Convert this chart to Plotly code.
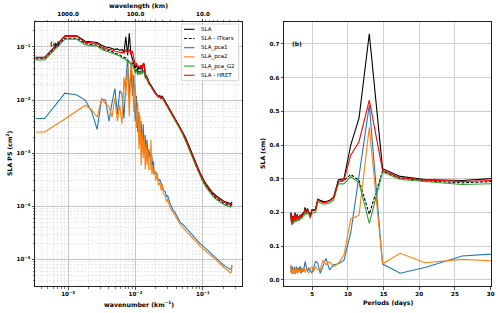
import plotly.graph_objects as go

# ---------------- panel (a): spectra ----------------
wavenumber = [3.3e-4, 4.5e-4, 9.0e-4, 1.35e-3, 1.8e-3, 2.25e-3, 2.7e-3, 3.15e-3, 3.6e-3, 4.05e-3,
              4.5e-3, 4.95e-3, 5.4e-3, 5.85e-3, 6.3e-3, 6.75e-3, 7.2e-3, 7.65e-3, 8.1e-3, 8.55e-3,
              9.0e-3, 9.45e-3, 9.9e-3, 1.035e-2, 1.08e-2, 1.125e-2, 1.17e-2, 1.215e-2, 1.26e-2, 1.305e-2,
              1.35e-2, 1.395e-2, 1.44e-2, 1.485e-2, 1.53e-2, 1.575e-2,
              0.0165, 0.017, 0.0175, 0.018, 0.0185, 0.019, 0.02, 0.021, 0.022, 0.023, 0.024, 0.025,
              0.026, 0.0275, 0.029, 0.03, 0.032, 0.034, 0.036, 0.038, 0.04, 0.043, 0.046, 0.05,
              0.055, 0.06, 0.066, 0.072, 0.08, 0.09, 0.1, 0.11, 0.125, 0.14, 0.16, 0.18, 0.2,
              0.22, 0.24, 0.255, 0.265, 0.27]

ps_sla = [0.064, 0.064, 0.162, 0.162, 0.128, 0.122, 0.121, 0.108, 0.100, 0.098, 0.095, 0.090,
          0.092, 0.086, 0.090, 0.080, 0.155, 0.070, 0.180, 0.075, 0.060, 0.050, 0.040, 0.048,
          0.036, 0.042, 0.038, 0.045, 0.037, 0.046, 0.048, 0.031, 0.029, 0.027, 0.025, 0.022,
          0.020, 0.019, 0.017, 0.0165, 0.0155, 0.0148, 0.0135, 0.0125, 0.0118, 0.0122, 0.0112,
          0.0118, 0.0108, 0.0098, 0.0087, 0.0082, 0.0068, 0.0060, 0.0053, 0.0048, 0.0043, 0.0037,
          0.0031, 0.0026, 0.0020, 0.00155, 0.00118, 0.00088, 0.00063, 0.00044, 0.00034, 0.00027,
          0.000215, 0.00018, 0.000155, 0.000138, 0.000128, 0.00012, 0.000115, 0.000113, 0.000116,
          0.000122]

ps_itkars = [0.060, 0.060, 0.146, 0.146, 0.115, 0.110, 0.109, 0.094, 0.089, 0.084, 0.082, 0.076,
             0.074, 0.071, 0.066, 0.064, 0.062, 0.056, 0.054, 0.052, 0.049, 0.043, 0.035, 0.039,
             0.032, 0.035, 0.032, 0.036, 0.033, 0.037, 0.035, 0.028, 0.026, 0.025, 0.023, 0.021,
             0.0192, 0.018, 0.0166, 0.0158, 0.015, 0.0142, 0.0131, 0.0121, 0.0114, 0.0116, 0.0107,
             0.0112, 0.0103, 0.0094, 0.0084, 0.0078, 0.0065, 0.0057, 0.005, 0.0045, 0.004, 0.0035,
             0.0029, 0.0024, 0.00183, 0.00142, 0.00108, 0.0008, 0.00057, 0.0004, 0.0003, 0.000245,
             0.000195, 0.000163, 0.00014, 0.000125, 0.000116, 0.000109, 0.000105, 0.000103,
             0.000106, 0.000112]

ps_pca1 = [0.0045, 0.0045, 0.0135, 0.0125, 0.0100, 0.0060, 0.0028, 0.0105, 0.0100, 0.0040, 0.0090,
           0.0165, 0.0055, 0.0150, 0.0130, 0.0045, 0.0220, 0.0600, 0.0110, 0.0450, 0.0120, 0.0300,
           0.0040, 0.0120, 0.0025, 0.0060, 0.0015, 0.0040, 0.0012, 0.0035, 0.0010, 0.0022, 0.0009,
           0.0018, 0.0008, 0.0012,
           0.0008, 0.0006, 0.0009, 0.0005, 0.0007, 0.0004, 0.00045, 0.00035, 0.0003, 0.00032,
           0.00026, 0.00024, 0.0002, 0.00019, 0.00015, 0.00016, 0.00012, 0.0001, 0.000085, 0.00008,
           0.00007, 0.00006, 0.00005, 0.000046, 0.00004, 0.000035, 0.000031, 0.000028, 0.000024,
           0.00002, 0.000018, 0.000016, 0.000014, 0.0000122, 0.0000105, 0.000009, 0.000008,
           0.0000072, 0.0000068, 0.0000065, 0.0000068, 0.0000078]

ps_pca2 = [0.0025, 0.0025, 0.0044, 0.0062, 0.0080, 0.0065, 0.0048, 0.0105, 0.0085, 0.0075, 0.0048,
           0.0110, 0.0040, 0.0080, 0.0035, 0.0270, 0.0120, 0.0420, 0.0050, 0.0550, 0.0300, 0.0060,
           0.0200, 0.0030, 0.0090, 0.0012, 0.0050, 0.0006, 0.0025, 0.0008, 0.0020, 0.0005, 0.0015,
           0.0006, 0.0012, 0.0005,
           0.0005, 0.0018, 0.0004, 0.0006, 0.0004, 0.0005, 0.0003, 0.00042, 0.00025, 0.00028,
           0.0002, 0.00026, 0.00017, 0.00016, 0.00012, 0.00014, 0.0001, 0.000085, 0.000078, 0.00007,
           0.000062, 0.000052, 0.000046, 0.00004, 0.000035, 0.000031, 0.000028, 0.000025, 0.000021,
           0.000018, 0.000016, 0.0000145, 0.0000125, 0.000011, 0.0000095, 0.0000082, 0.0000072,
           0.0000065, 0.000006, 0.0000056, 0.0000058, 0.0000075]

ps_pca_g2 = [0.057, 0.057, 0.140, 0.140, 0.110, 0.105, 0.105, 0.090, 0.085, 0.080, 0.078, 0.072,
             0.070, 0.068, 0.062, 0.060, 0.058, 0.052, 0.050, 0.048, 0.046, 0.040, 0.032, 0.036,
             0.030, 0.033, 0.030, 0.034, 0.031, 0.035, 0.033, 0.026, 0.025, 0.024, 0.022, 0.020,
             0.019, 0.0178, 0.0164, 0.0156, 0.0148, 0.014, 0.0129, 0.0119, 0.0112, 0.0114, 0.0105,
             0.011, 0.0101, 0.0092, 0.0082, 0.0076, 0.0063, 0.0055, 0.0048, 0.0043, 0.0038, 0.0033,
             0.0028, 0.0023, 0.00175, 0.00136, 0.00103, 0.00077, 0.00055, 0.00038, 0.00029, 0.000235,
             0.000185, 0.000155, 0.000133, 0.000119, 0.00011, 0.000104, 0.0001, 0.000098, 0.0001,
             0.000106]

ps_hret = [0.063, 0.063, 0.158, 0.158, 0.122, 0.118, 0.117, 0.100, 0.094, 0.090, 0.088, 0.083,
           0.082, 0.078, 0.080, 0.076, 0.088, 0.078, 0.090, 0.072, 0.085, 0.060, 0.045, 0.050,
           0.040, 0.045, 0.040, 0.046, 0.040, 0.050, 0.047, 0.031, 0.029, 0.027, 0.025, 0.022,
           0.0195, 0.0182, 0.0168, 0.016, 0.0152, 0.0143, 0.0132, 0.0122, 0.0115, 0.0118, 0.0108,
           0.0114, 0.0104, 0.0095, 0.0085, 0.0079, 0.0066, 0.0058, 0.0051, 0.0046, 0.0041, 0.0036,
           0.0030, 0.0025, 0.0019, 0.00148, 0.00113, 0.00084, 0.0006, 0.00042, 0.00032, 0.00026,
           0.000205, 0.000172, 0.000148, 0.000132, 0.000122, 0.000115, 0.00011, 0.000108, 0.000111,
           0.000117]

# ---------------- panel (b): amplitude vs period ----------------
periods = [2.0, 2.04, 2.08, 2.12, 2.17, 2.21, 2.26, 2.31, 2.36, 2.42, 2.48, 2.54, 2.6, 2.67, 2.74,
           2.81, 2.89, 2.97, 3.06, 3.15, 3.25, 3.35, 3.47, 3.59, 3.71, 3.85, 4.0, 4.16, 4.33, 4.52,
           4.73, 4.95, 5.2, 5.47, 5.78, 6.12, 6.5, 6.93, 7.43, 8.0, 8.67, 9.45, 10.4, 11.56, 13.0,
           14.86, 17.33, 20.8, 26.0, 34.67]

amp_sla = [0.185, 0.2, 0.178, 0.19, 0.17, 0.185, 0.168, 0.175, 0.19, 0.172, 0.185, 0.178, 0.2, 0.18,
           0.186, 0.178, 0.195, 0.18, 0.188, 0.182, 0.19, 0.185, 0.195, 0.188, 0.2, 0.195, 0.215,
           0.198, 0.212, 0.2, 0.19, 0.208, 0.207, 0.21, 0.24, 0.236, 0.233, 0.232, 0.236, 0.245,
           0.297, 0.30, 0.40, 0.48, 0.73, 0.33, 0.307, 0.298, 0.295, 0.307]

amp_itkars = [0.183, 0.198, 0.176, 0.188, 0.168, 0.186, 0.168, 0.176, 0.188, 0.172, 0.183, 0.177,
              0.198, 0.179, 0.186, 0.177, 0.193, 0.18, 0.186, 0.181, 0.19, 0.184, 0.193, 0.187,
              0.198, 0.194, 0.212, 0.197, 0.21, 0.2, 0.19, 0.206, 0.206, 0.208, 0.238, 0.234,
              0.231, 0.231, 0.235, 0.244, 0.292, 0.295, 0.313, 0.295, 0.195, 0.323, 0.302, 0.294,
              0.288, 0.296]

amp_pca1 = [0.025, 0.042, 0.022, 0.03, 0.018, 0.04, 0.025, 0.035, 0.02, 0.03, 0.022, 0.04, 0.018,
            0.032, 0.025, 0.04, 0.02, 0.035, 0.022, 0.038, 0.028, 0.04, 0.02, 0.035, 0.025, 0.03,
            0.055, 0.04, 0.025, 0.035, 0.03, 0.02, 0.035, 0.055, 0.05, 0.02, 0.04, 0.064, 0.03,
            0.045, 0.048, 0.058, 0.14, 0.31, 0.518, 0.047, 0.02, 0.037, 0.071, 0.083]

amp_pca2 = [0.022, 0.045, 0.03, 0.02, 0.032, 0.025, 0.022, 0.03, 0.018, 0.035, 0.028, 0.02, 0.03,
            0.025, 0.035, 0.022, 0.03, 0.02, 0.035, 0.025, 0.03, 0.02, 0.035, 0.03, 0.025, 0.04,
            0.022, 0.033, 0.028, 0.02, 0.035, 0.038, 0.025, 0.04, 0.03, 0.03, 0.059, 0.045, 0.054,
            0.04, 0.049, 0.074, 0.18, 0.192, 0.453, 0.048, 0.079, 0.051, 0.061, 0.052]

amp_pca_g2 = [0.18, 0.19, 0.17, 0.18, 0.162, 0.182, 0.165, 0.172, 0.18, 0.168, 0.178, 0.172, 0.19,
              0.172, 0.182, 0.173, 0.186, 0.176, 0.18, 0.175, 0.185, 0.18, 0.186, 0.183, 0.19,
              0.19, 0.203, 0.193, 0.2, 0.195, 0.183, 0.198, 0.2, 0.2, 0.232, 0.228, 0.225, 0.225,
              0.228, 0.237, 0.285, 0.285, 0.306, 0.288, 0.168, 0.32, 0.298, 0.292, 0.283, 0.288]

amp_hret = [0.19, 0.195, 0.172, 0.185, 0.165, 0.19, 0.172, 0.18, 0.186, 0.175, 0.182, 0.18, 0.196,
            0.178, 0.19, 0.18, 0.192, 0.183, 0.185, 0.18, 0.192, 0.188, 0.192, 0.19, 0.198, 0.2,
            0.21, 0.2, 0.208, 0.202, 0.188, 0.205, 0.205, 0.208, 0.238, 0.233, 0.23, 0.23, 0.234,
            0.243, 0.292, 0.295, 0.37, 0.41, 0.533, 0.325, 0.303, 0.296, 0.292, 0.298]

series_names = ["SLA", "SLA - ITkars", "SLA_pca1", "SLA_pca2", "SLA_pca_G2", "SLA - HRET"]
series_colors = ["#000000", "#000000", "#1f77b4", "#ff7f0e", "#2ca02c", "#ff0000"]
series_dash = ["solid", "3px,1.6px", "solid", "solid", "solid", "solid"]

ps_series = [ps_sla, ps_itkars, ps_pca1, ps_pca2, ps_pca_g2, ps_hret]
amp_series = [amp_sla, amp_itkars, amp_pca1, amp_pca2, amp_pca_g2, amp_hret]

log_ticks = [1e-3, 1e-2, 1e-1]
log_tick_text = ["10<sup>−3</sup>", "10<sup>−2</sup>", "10<sup>−1</sup>"]
ps_ticks = [1e-5, 1e-4, 1e-3, 1e-2, 1e-1]
ps_tick_text = ["10<sup>−5</sup>", "10<sup>−4</sup>", "10<sup>−3</sup>", "10<sup>−2</sup>", "10<sup>−1</sup>"]
wl_ticks = [1000, 100, 10]
wl_tick_text = ["1000.0", "100.0", "10.0"]
period_ticks = [5, 10, 15, 20, 25, 30]
period_tick_text = ["5", "10", "15", "20", "25", "30"]
amp_ticks = [0.0, 0.1, 0.2, 0.3, 0.4, 0.5, 0.6, 0.7]

# minor (2..9 x decade) tick positions for the log axes
minor_k = [m * 10.0 ** e for e in range(-4, 0) for m in range(2, 10)]
minor_ps = [m * 10.0 ** e for e in range(-6, 0) for m in range(2, 10)]
minor_wl = [m * 10.0 ** e for e in range(0, 4) for m in range(2, 10)]

# full-window figure; the page's default body margin is removed by a post script
W, H = 500, 313
def px(x):
    return x / W
def py(y):
    return 1 - y / H

FONT = "DejaVu Sans"
fig = go.Figure()

for name, col, dash, ys in zip(series_names, series_colors, series_dash, ps_series):
    fig.add_trace(go.Scatter(x=wavenumber, y=ys, mode="lines", name=name,
                             line=dict(color=col, width=1.1, dash=dash),
                             xaxis="x", yaxis="y", showlegend=False))
for name, col, dash, ys in zip(series_names, series_colors, series_dash, amp_series):
    fig.add_trace(go.Scatter(x=periods, y=ys, mode="lines", name=name,
                             line=dict(color=col, width=1.1, dash=dash),
                             xaxis="x2", yaxis="y2", showlegend=False))

tickfont = dict(family=FONT, size=5.6, color="black", weight="bold")
titlefont = dict(family=FONT, size=6.2, color="black", weight="bold")
frame = dict(showline=True, linecolor="#222222", linewidth=1, mirror=True,
             ticks="outside", ticklen=2.5, tickwidth=0.8, tickcolor="#222222",
             zeroline=False, tickfont=tickfont, automargin=False)
minor_style = dict(ticks="outside", ticklen=1.5, tickwidth=0.6, tickcolor="#222222",
                   showgrid=True, gridcolor="#dcdcdc", griddash="2px,1.5px", gridwidth=0.6)

dom_y = [py(286), py(22)]
fig.update_layout(
    width=W, height=H, margin=dict(l=0, r=0, t=0, b=0, autoexpand=False),
    paper_bgcolor="white", plot_bgcolor="white", showlegend=False,
    xaxis=dict(type="log", range=[-3.49, -0.42], domain=[px(35), px(242)], anchor="y",
               tickmode="array", tickvals=log_ticks, ticktext=log_tick_text,
               showgrid=True, gridcolor="#b8b8b8", gridwidth=0.8,
               minor=dict(tickmode="array", tickvals=minor_k, **minor_style),
               **frame),
    yaxis=dict(type="log", range=[-5.5, -0.53], domain=dom_y, anchor="x",
               tickmode="array", tickvals=ps_ticks, ticktext=ps_tick_text,
               showgrid=True, gridcolor="#b8b8b8", gridwidth=0.8,
               minor=dict(tickmode="array", tickvals=minor_ps, **minor_style),
               **frame),
    xaxis3=dict(type="log", range=[3.49, 0.42], overlaying="x", side="top", anchor="y",
                tickmode="array", tickvals=wl_ticks, ticktext=wl_tick_text, showgrid=False,
                showline=False, ticks="outside", ticklen=2.5, tickwidth=0.8, tickcolor="#222222",
                minor=dict(tickmode="array", tickvals=minor_wl, ticks="outside", ticklen=1.5,
                           tickwidth=0.6, tickcolor="#222222", showgrid=False),
                tickfont=tickfont, zeroline=False, automargin=False),
    xaxis2=dict(range=[1.05, 30.05], domain=[px(284), px(491)], anchor="y2",
                tickmode="array", tickvals=period_ticks, ticktext=period_tick_text,
                showgrid=True, gridcolor="#d0d0d0", gridwidth=1,
                **frame),
    yaxis2=dict(range=[-0.018, 0.765], domain=dom_y, anchor="x2",
                tickmode="array", tickvals=amp_ticks, tickformat=".1f", showgrid=True,
                gridcolor="#d0d0d0", gridwidth=1,
                **frame),
)

# invisible helper so the top wavelength axis is drawn
fig.add_trace(go.Scatter(x=[1000, 10], y=[1e-3, 1e-3], mode="markers", marker=dict(opacity=0),
                         xaxis="x3", yaxis="y", showlegend=False, hoverinfo="skip"))

# axis titles
def title(text, x, y, angle=0):
    fig.add_annotation(text=text, x=px(x), y=py(y), xref="paper", yref="paper",
                       textangle=angle, showarrow=False, font=titlefont,
                       xanchor="center", yanchor="middle")

title("wavelength (km)", 138.5, 6.5)
title("wavenumber (km<sup>−1</sup>)", 138.5, 304)
title("SLA PS (cm<sup>2</sup>)", 9, 154, -90)
title("Periods (days)", 387.5, 302.5)
title("SLA (cm)", 263, 154, -90)

# panel labels
fig.add_annotation(text="(a)", x=px(47.5), y=py(38), xref="paper", yref="paper",
                   showarrow=False, font=dict(family=FONT, size=6, color="black", weight="bold"))
fig.add_annotation(text="(b)", x=px(297), y=py(38), xref="paper", yref="paper",
                   showarrow=False, font=dict(family=FONT, size=6, color="black", weight="bold"))

# legend box (panel a, upper right)
fig.add_shape(type="rect", xref="paper", yref="paper", x0=px(181.7), x1=px(238.7),
              y0=py(80.7), y1=py(24), line=dict(color="#cccccc", width=0.8),
              fillcolor="rgba(255,255,255,0.85)", layer="above")
for i, (name, col, dash) in enumerate(zip(series_names, series_colors, series_dash)):
    yc = 29.3 + i * 9.2
    fig.add_shape(type="line", xref="paper", yref="paper", x0=px(184), x1=px(194.5),
                  y0=py(yc), y1=py(yc), line=dict(color=col, width=1.1, dash=dash), layer="above")
    fig.add_annotation(text=name, x=px(199), y=py(yc), xref="paper", yref="paper",
                       xanchor="left", yanchor="middle", showarrow=False,
                       font=dict(family=FONT, size=5.5, color="black"))

fig.write_html("out.html", config={"displayModeBar": False, "staticPlot": True},
               post_script="document.body.style.margin='0px';")
